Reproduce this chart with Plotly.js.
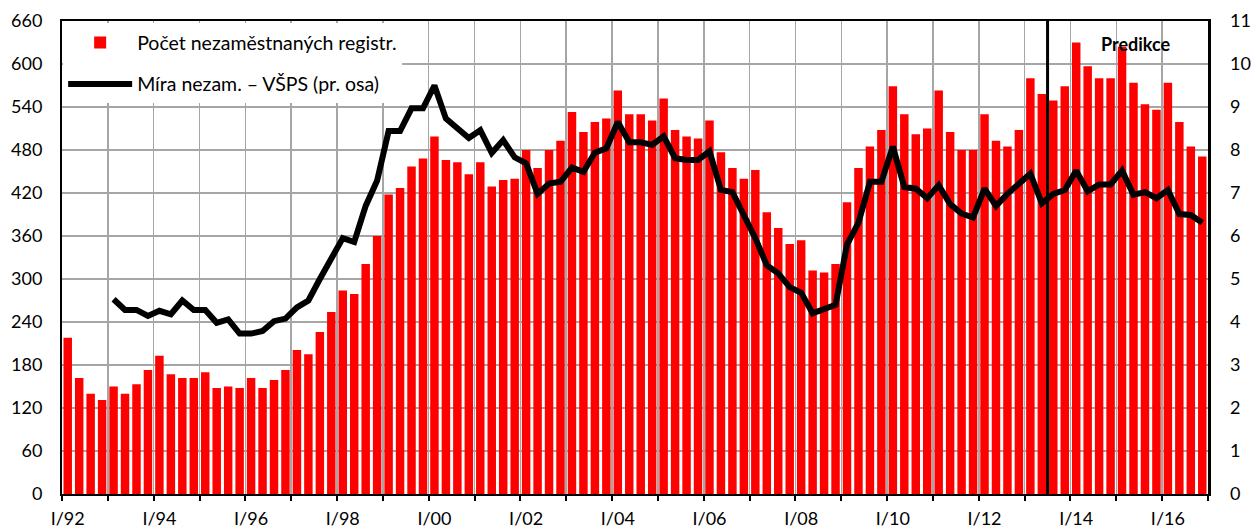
<!DOCTYPE html>
<html>
<head>
<meta charset="utf-8">
<script src="https://cdn.plot.ly/plotly-3.0.1.min.js"></script>
<style>html,body{margin:0;padding:0;background:#fff;}#chart{width:1252px;height:532px;}</style>
</head>
<body>
<div id="chart"></div>
<script>
// Quarterly categories I/92 .. IV/16
const years = ['92','93','94','95','96','97','98','99','00','01','02','03','04','05','06','07','08','09','10','11','12','13','14','15','16'];
const quarterNames = ['I','II','III','IV'];
const categories = [];
years.forEach(y => quarterNames.forEach(q => categories.push(q + '/' + y)));

// Registered unemployed (thousands), left axis
const registeredUnemployed = [
  218,162,140,131, 150,140,153,173, 193,167,162,162, 170,148,150,148,
  162,148,159,173, 201,195,226,254, 284,279,321,360, 418,427,457,468,
  499,466,463,446, 463,429,438,440, 480,455,480,493, 533,505,519,524,
  563,530,530,521, 552,508,499,496, 521,477,455,440, 452,393,371,349,
  354,312,309,321, 407,455,485,508, 569,530,502,510, 563,505,480,480,
  530,493,485,508, 580,558,549,569, 630,597,580,580, 624,574,544,536,
  574,519,485,471
];

// Unemployment rate, LFS (%), right axis; starts I/93
const unemploymentRate = [
  null,null,null,null,
  4.53,4.28,4.28,4.14, 4.26,4.18,4.50,4.28, 4.28,3.98,4.06,3.73,
  3.73,3.79,4.02,4.08, 4.34,4.50,5.00,5.48, 5.95,5.86,6.70,7.29,
  8.44,8.44,8.97,8.97, 9.50,8.73,8.52,8.28, 8.46,7.93,8.23,7.83,
  7.69,6.98,7.22,7.26, 7.59,7.49,7.94,8.04, 8.65,8.18,8.18,8.12,
  8.32,7.81,7.77,7.77, 7.97,7.07,7.02,6.51, 5.95,5.32,5.13,4.81,
  4.68,4.20,4.31,4.40, 5.80,6.31,7.26,7.26, 8.08,7.14,7.10,6.88,
  7.18,6.74,6.52,6.43, 7.10,6.70,6.98,7.22, 7.45,6.76,6.98,7.07,
  7.52,7.04,7.20,7.20, 7.52,6.96,7.02,6.88, 7.07,6.51,6.49,6.31
];

// Axis labels
const tickLabels = ['I/92','I/94','I/96','I/98','I/00','I/02','I/04','I/06','I/08','I/10','I/12','I/14','I/16'];
const leftTicks = [0,60,120,180,240,300,360,420,480,540,600,660];
const rightTicks = [0,1,2,3,4,5,6,7,8,9,10,11];
const forecastStart = 'III/13';
const forecastLabel = 'Predikce';
const seriesNames = ['Počet nezaměstnaných registr.', 'Míra nezam. – VŠPS (pr. osa)'];

const idx = categories.map((c, i) => i);
const labelPos = tickLabels.map(t => categories.indexOf(t));
const yearBoundaries = [];
for (let i = 0; i <= categories.length; i += 4) yearBoundaries.push(i - 0.5);
const forecastX = categories.indexOf(forecastStart) - 0.5;

const FONT = 'Lato, "Open Sans", sans-serif';

const traces = [
  {
    type: 'bar', x: idx, y: registeredUnemployed, name: seriesNames[0],
    xaxis: 'x', yaxis: 'y', legendgroup: 'a',
    marker: {color: '#ff0000', line: {width: 0}},
    hoverinfo: 'skip'
  },
  {
    type: 'scatter', mode: 'lines', x: idx, y: unemploymentRate, name: seriesNames[1],
    xaxis: 'x2', yaxis: 'y2', legendgroup: 'b', connectgaps: false,
    line: {color: '#000000', width: 6},
    hoverinfo: 'skip'
  }
];

const xr = [-0.5, categories.length - 0.5];

const layout = {
  width: 1252, height: 532,
  margin: {l: 62, r: 44, t: 21, b: 38},
  paper_bgcolor: '#ffffff', plot_bgcolor: '#ffffff',
  font: {family: FONT, size: 18, color: '#000000'},
  bargap: 0.26,
  showlegend: true,
  legend: {
    x: 0.001, y: 0.995, xanchor: 'left', yanchor: 'top',
    bgcolor: '#ffffff', borderwidth: 0,
    font: {family: FONT, size: 19.5, color: '#000000'},
    traceorder: 'grouped', tracegroupgap: 13,
    itemwidth: 64
  },
  xaxis: {
    range: xr, tickmode: 'array', tickvals: labelPos, ticktext: tickLabels,
    ticks: '', showgrid: false, zeroline: false,
    showline: true, linecolor: '#000000', linewidth: 2, mirror: true,
    ticklabelstandoff: 7,
    tickfont: {family: FONT, size: 18, color: '#000000'}
  },
  xaxis2: {
    range: xr, overlaying: 'x', anchor: 'y2', side: 'bottom',
    tickmode: 'array', tickvals: yearBoundaries,
    ticks: 'outside', ticklen: 6, tickwidth: 2, tickcolor: '#000000',
    showticklabels: false, showgrid: true, gridcolor: '#a6a6a6', gridwidth: 1.5,
    zeroline: false, showline: false
  },
  yaxis: {
    range: [0, 660], tickmode: 'array', tickvals: leftTicks,
    ticks: '', showgrid: true, gridcolor: '#a6a6a6', gridwidth: 1.5,
    zeroline: false, showline: true, linecolor: '#000000', linewidth: 2,
    ticklabelstandoff: 14,
    tickfont: {family: FONT, size: 18, color: '#000000'}
  },
  yaxis2: {
    range: [0, 11], overlaying: 'y', side: 'right', anchor: 'x2',
    tickmode: 'array', tickvals: rightTicks,
    ticks: '', showgrid: false, zeroline: false,
    showline: true, linecolor: '#000000', linewidth: 2.5,
    ticklabelstandoff: 16,
    tickfont: {family: FONT, size: 18, color: '#000000'}
  },
  shapes: [
    {type: 'line', xref: 'x', yref: 'paper', x0: forecastX, x1: forecastX, y0: 0, y1: 1,
     line: {color: '#000000', width: 3}}
  ],
  annotations: [
    {xref: 'x', yref: 'paper', x: 93.2, y: 0.952, text: '<b>' + forecastLabel + '</b>',
     showarrow: false, xanchor: 'center', yanchor: 'middle',
     font: {family: FONT, size: 18, color: '#000000'}}
  ]
};

Plotly.newPlot('chart', traces, layout, {displayModeBar: false, staticPlot: true});
</script>
</body>
</html>
